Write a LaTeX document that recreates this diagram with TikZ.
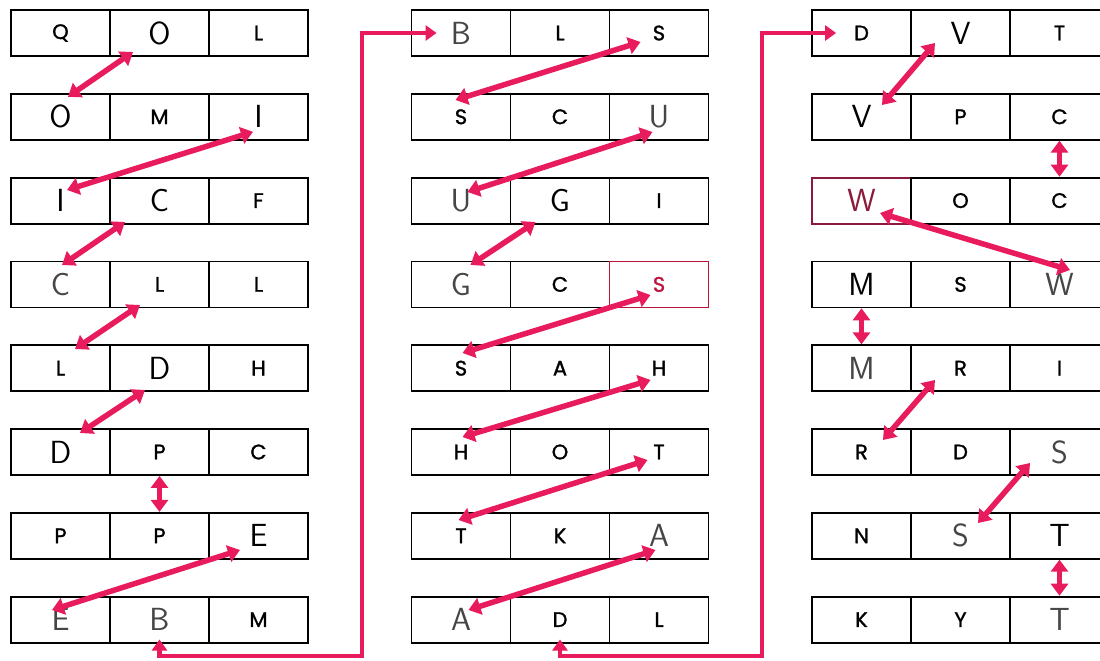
\documentclass[tikz,border=0pt]{standalone}
\usepackage{fontspec}
\usetikzlibrary{arrows.meta}
\newfontfamily\prtfont{Poppins}[FakeBold=1.3]
\definecolor{pk}{RGB}{232,27,92}
\definecolor{crim}{RGB}{190,20,60}
\definecolor{maroon}{RGB}{140,26,60}
\definecolor{hgray}{RGB}{70,70,70}
\newcommand\LtrP{\prtfont\fontsize{21}{21}\selectfont\color{black}}
\newcommand\LtrR{\prtfont\fontsize{21}{21}\selectfont\color{crim}}
\newcommand\LtrH{\sffamily\fontsize{32}{32}\selectfont\color{black}}
\newcommand\LtrG{\sffamily\fontsize{32}{32}\selectfont\color{hgray}}
\newcommand\LtrM{\sffamily\fontsize{32}{32}\selectfont\color{maroon}}
\tikzset{
  cell/.style={draw, line width=1.8pt, minimum width=99pt, minimum height=46pt, inner sep=0pt, anchor=center},
  dbl/.style={pk, line width=5.5pt, {Triangle[width=17pt,length=12pt]}-{Triangle[width=17pt,length=12pt]}},
  bigc/.style={pk, line width=4.5pt, {Triangle[width=15pt,length=11pt]}-{Triangle[width=15pt,length=11pt]}}
}
\begin{document}
\begin{tikzpicture}[x=1pt,y=-1pt]
\useasboundingbox (0,0) rectangle (1100,661);
\clip (0,0) rectangle (1100,661);
\fill[white] (0,0) rectangle (1100,661);
\foreach \c/\r/\k/\t/\f/\b in {
 1/1/1/Q/P/black, 1/1/2/O/H/black, 1/1/3/L/P/black,
 1/2/1/O/H/black, 1/2/2/M/P/black, 1/2/3/I/H/black,
 1/3/1/I/H/black, 1/3/2/C/H/black, 1/3/3/F/P/black,
 1/4/1/C/G/black, 1/4/2/L/P/black, 1/4/3/L/P/black,
 1/5/1/L/P/black, 1/5/2/D/H/black, 1/5/3/H/P/black,
 1/6/1/D/H/black, 1/6/2/P/P/black, 1/6/3/C/P/black,
 1/7/1/P/P/black, 1/7/2/P/P/black, 1/7/3/E/H/black,
 1/8/1/E/G/black, 1/8/2/B/G/black, 1/8/3/M/P/black,
 2/1/1/B/G/black, 2/1/2/L/P/black, 2/1/3/S/P/black,
 2/2/1/S/P/black, 2/2/2/C/P/black, 2/2/3/U/G/black,
 2/3/1/U/G/black, 2/3/2/G/H/black, 2/3/3/I/P/black,
 2/4/1/G/G/black, 2/4/2/C/P/black, 2/4/3/S/R/crim,
 2/5/1/S/P/black, 2/5/2/A/P/black, 2/5/3/H/P/black,
 2/6/1/H/P/black, 2/6/2/O/P/black, 2/6/3/T/P/black,
 2/7/1/T/P/black, 2/7/2/K/P/black, 2/7/3/A/G/black,
 2/8/1/A/G/black, 2/8/2/D/P/black, 2/8/3/L/P/black,
 3/1/1/D/P/black, 3/1/2/V/H/black, 3/1/3/T/P/black,
 3/2/1/V/H/black, 3/2/2/P/P/black, 3/2/3/C/P/black,
 3/3/1/W/M/maroon, 3/3/2/O/P/black, 3/3/3/C/P/black,
 3/4/1/M/H/black, 3/4/2/S/P/black, 3/4/3/W/G/black,
 3/5/1/M/G/black, 3/5/2/R/P/black, 3/5/3/I/P/black,
 3/6/1/R/P/black, 3/6/2/D/P/black, 3/6/3/S/G/black,
 3/7/1/N/P/black, 3/7/2/S/G/black, 3/7/3/T/H/black,
 3/8/1/K/P/black, 3/8/2/Y/P/black, 3/8/3/T/G/black}
 {\node[cell, draw=\b] (c\c\r\k) at ({60.5+400.5*(\c-1)+99*(\k-1)},{33+83.8*(\r-1)}) {\csname Ltr\f\endcsname\t};}
% column 1
\draw[dbl] ([shift={(-26.5,19)}]c112.center) -- ([shift={(7.5,-20)}]c121.center);
\draw[dbl] ([shift={(-5.5,15)}]c123.center) -- ([shift={(6.5,-10.6)}]c131.center);
\draw[dbl] ([shift={(-34.5,21.4)}]c132.center) -- ([shift={(1.5,-19.4)}]c141.center);
\draw[dbl] ([shift={(-19.5,20.6)}]c142.center) -- ([shift={(14.5,-19.2)}]c151.center);
\draw[dbl] ([shift={(-14.5,21.8)}]c152.center) -- ([shift={(19.5,-19)}]c161.center);
\draw[dbl] (c162.south) -- (c172.north);
\draw[dbl] ([shift={(-18.5,14.2)}]c173.center) -- ([shift={(-8.5,-9.6)}]c181.center);
% column 2
\draw[dbl] ([shift={(-18.5,9)}]c213.center) -- ([shift={(-5.5,-16.8)}]c221.center);
\draw[dbl] ([shift={(-6.5,15.2)}]c223.center) -- ([shift={(6.5,-8.6)}]c231.center);
\draw[dbl] ([shift={(-24.5,21.4)}]c232.center) -- ([shift={(9.5,-19.4)}]c241.center);
\draw[dbl] ([shift={(-8.5,10.6)}]c243.center) -- ([shift={(1.5,-15.2)}]c251.center);
\draw[dbl] ([shift={(-8.5,11.8)}]c253.center) -- ([shift={(1.5,-15)}]c261.center);
\draw[dbl] ([shift={(-11.5,8)}]c263.center) -- ([shift={(-2.5,-15.8)}]c271.center);
\draw[dbl] ([shift={(-3.5,14.2)}]c273.center) -- ([shift={(7.5,-9.6)}]c281.center);
% column 3
\draw[dbl] ([shift={(-25.5,10)}]c312.center) -- ([shift={(20.5,-11.8)}]c321.center);
\draw[dbl] (c323.south) -- (c333.north);
\draw[dbl] ([shift={(18.5,12.4)}]c331.center) -- ([shift={(10.5,-14.4)}]c343.center);
\draw[dbl] (c341.south) -- (c351.north);
\draw[dbl] ([shift={(-25.5,11.8)}]c352.center) -- ([shift={(21.5,-12)}]c361.center);
\draw[dbl] ([shift={(-29.5,11)}]c363.center) -- ([shift={(17.5,-12.8)}]c372.center);
\draw[dbl] (c373.south) -- (c383.north);
% long connectors
\coordinate (ba) at (362,656);
\coordinate (bb) at (762,656);
\draw[bigc] ([yshift=4pt]c182.south) |- (ba) |- ([xshift=26pt]c211.west);
\draw[bigc] ([yshift=4pt]c282.south) |- (bb) |- ([xshift=25pt]c311.west);
\end{tikzpicture}
\end{document}
